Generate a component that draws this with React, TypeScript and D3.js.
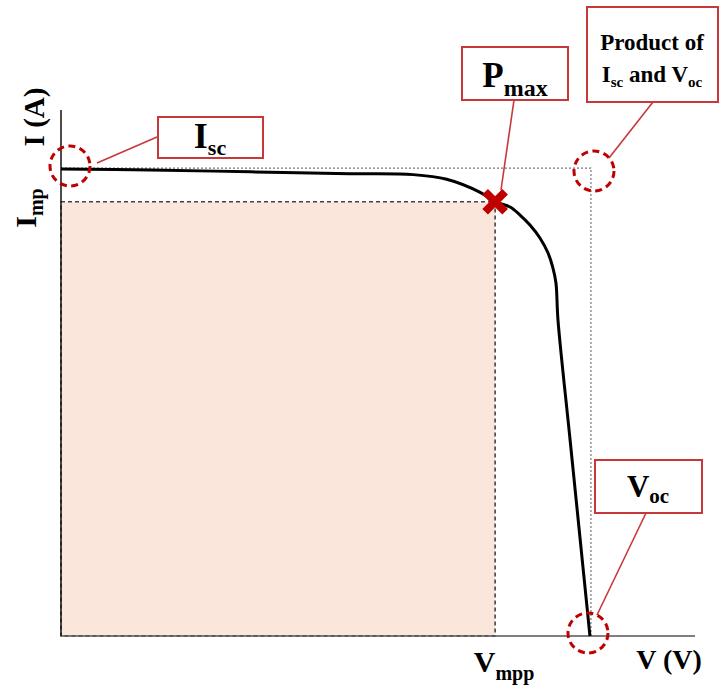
import React from "react";
import * as d3 from "d3";

// I-V curve samples (arbitrary units)
const voltage = [0, 10.1, 21.5, 32.8, 40.0, 43.8, 47.6, 49.3, 51.0, 52.13, 53.26, 54.39, 55.31, 55.87, 56.21, 56.44, 57.78, 58.92, 60.07];
const current = [5.0, 4.99, 4.97, 4.95, 4.94, 4.89, 4.75, 4.65, 4.593, 4.507, 4.4, 4.261, 4.101, 3.94, 3.779, 3.383, 2.131, 1.071, 0];
const Isc = 5.0;
const Voc = 60.07;
const Vmpp = 49.3;
const Imp = 4.65;
const vMax = 72;
const iMax = 5.632;

const RED = "#c00000";
const BOXRED = "#c8383a";
const FONT = "'Liberation Serif', 'Times New Roman', serif";

export default function App() {
  const x = d3.scaleLinear().domain([0, vMax]).range([61, 695]);
  const y = d3.scaleLinear().domain([0, iMax]).range([636, 110]);
  const pts: [number, number][] = voltage.map((v, i) => [v, current[i]]);
  const line = d3
    .line<[number, number]>()
    .x((d) => x(d[0]))
    .y((d) => y(d[1]))
    .curve(d3.curveCatmullRom.alpha(0.5));

  const px = x(Vmpp);
  const py = y(Imp);

  const box = (bx: number, by: number, w: number, h: number) => (
    <rect x={bx} y={by} width={w} height={h} fill="#fff" stroke={BOXRED} strokeWidth={2} />
  );

  return (
    <svg width={720} height={686} style={{ position: "absolute", left: 0, top: 0 }}>
      <rect width={720} height={686} fill="#fff" />
      {/* Max power rectangle */}
      <rect
        x={x(0)}
        y={py}
        width={px - x(0)}
        height={y(0) - py}
        fill="#fae6da"
        stroke="#444"
        strokeWidth={1.6}
        strokeDasharray="4,3"
      />
      {/* Isc x Voc dotted outline */}
      <path
        d={`M${x(0)},${y(Isc) - 1}H${x(Voc) + 1}V${y(0)}`}
        fill="none"
        stroke="#777"
        strokeWidth={1.2}
        strokeDasharray="2,2"
      />
      {/* axes */}
      <line x1={x(0)} x2={x(vMax)} y1={y(0)} y2={y(0)} stroke="#555" strokeWidth={1.5} />
      <line x1={x(0)} x2={x(0)} y1={y(0)} y2={y(iMax)} stroke="#111" strokeWidth={1.5} />
      {/* curve */}
      <path d={line(pts) || ""} fill="none" stroke="#000" strokeWidth={3} />
      {/* Pmax marker */}
      <g transform={`translate(${px},${py})`}>
        <path d="M-10,-10L10,10M-10,10L10,-10" stroke={RED} strokeWidth={8} />
      </g>
      {/* dashed circles */}
      {[
        [70, 166],
        [594, 171],
        [588, 633],
      ].map(([cx, cy], i) => (
        <circle key={i} cx={cx} cy={cy} r={20} fill="none" stroke={RED} strokeWidth={3} strokeDasharray="7,4.5" />
      ))}
      {/* leader lines */}
      <g stroke={BOXRED} strokeWidth={1.6}>
        <line x1={97} y1={163} x2={157} y2={137} />
        <line x1={514} y1={100} x2={501} y2={190} />
        <line x1={653} y1={102} x2={609} y2={158} />
        <line x1={646} y1={513} x2={597} y2={615} />
      </g>
      {/* boxes */}
      {box(158, 117, 105, 41)}
      {box(462, 47, 106, 53)}
      {box(587, 7, 131, 95)}
      {box(595, 460, 107, 53)}
      <g fontFamily={FONT} fontWeight="bold" fill="#000">
        <text x={210} y={148} textAnchor="middle" fontSize={36}>
          I<tspan fontSize={22} dy={7}>sc</tspan>
        </text>
        <text x={515} y={87} textAnchor="middle" fontSize={35}>
          P<tspan fontSize={24} dy={9}>max</tspan>
        </text>
        <text x={652} y={50} textAnchor="middle" fontSize={23}>
          Product of
        </text>
        <text x={652} y={82} textAnchor="middle" fontSize={23}>
          I<tspan fontSize={15} dy={5}>sc</tspan>
          <tspan dy={-5}> and V</tspan>
          <tspan fontSize={15} dy={5}>oc</tspan>
        </text>
        <text x={648} y={497} textAnchor="middle" fontSize={31}>
          V<tspan fontSize={21} dy={6}>oc</tspan>
        </text>
        <text transform="translate(44,117) rotate(-90)" textAnchor="middle" fontSize={29}>
          I (A)
        </text>
        <text transform="translate(36,208) rotate(-90)" textAnchor="middle" fontSize={30}>
          I<tspan fontSize={20} dy={7}>mp</tspan>
        </text>
        <text x={504} y={672} textAnchor="middle" fontSize={30}>
          V<tspan fontSize={20} dy={8}>mpp</tspan>
        </text>
        <text x={669} y={669} textAnchor="middle" fontSize={28}>
          V (V)
        </text>
      </g>
    </svg>
  );
}
